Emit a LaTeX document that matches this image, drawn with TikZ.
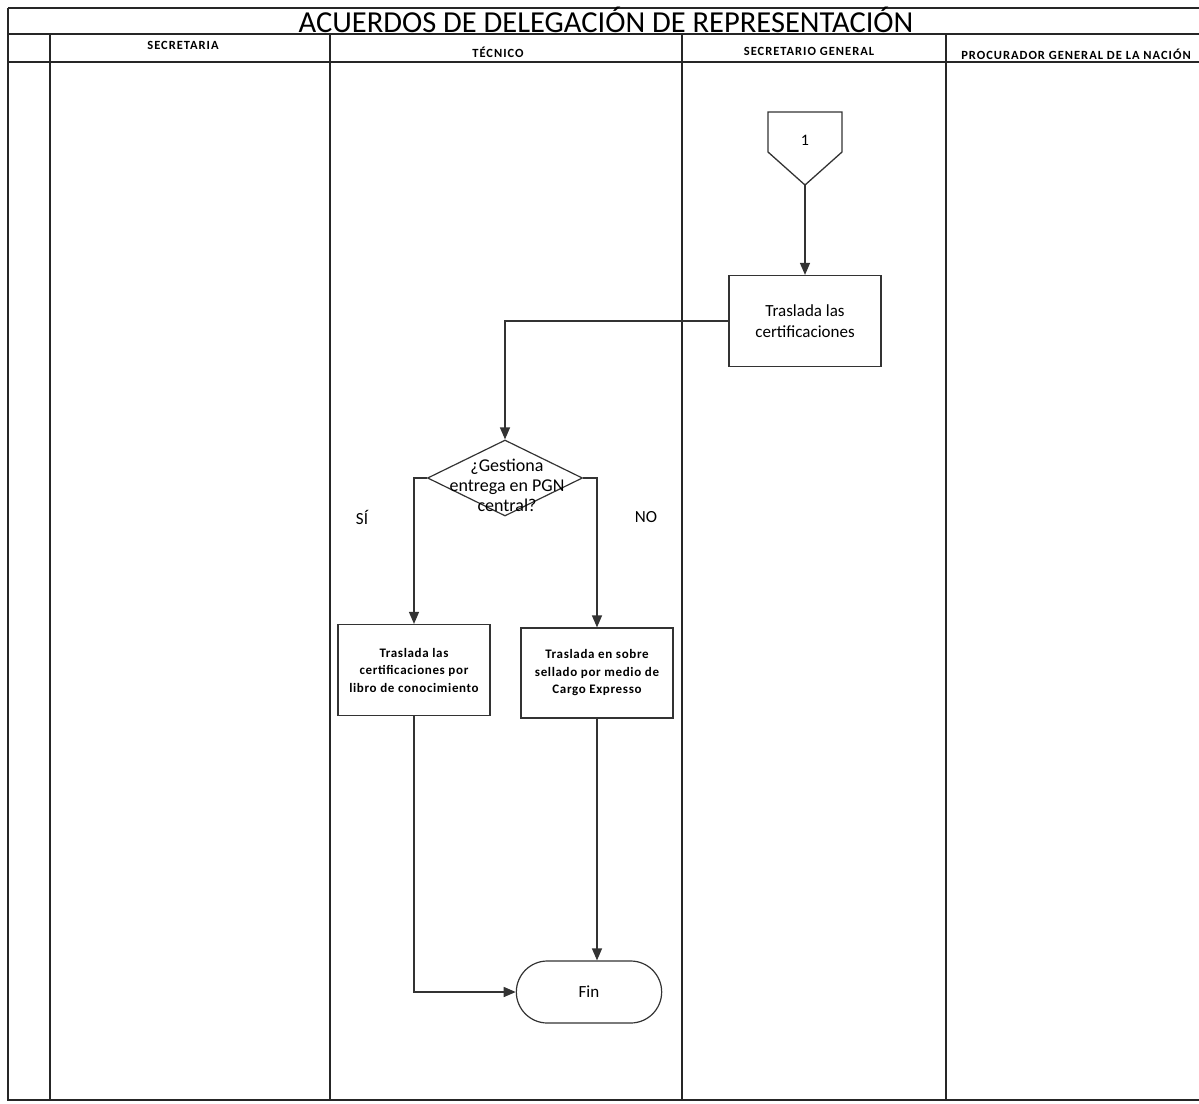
\documentclass[tikz,border=0pt]{standalone}
\usepackage{fontspec}
\setmainfont{Carlito}
\usetikzlibrary{arrows.meta,shapes.geometric,shapes.misc}
\begin{document}
\begin{tikzpicture}[x=1pt,y=-1pt,
  frame/.style={line width=1.3pt,draw=black!85},
  lane/.style={line width=1.1pt,draw=black!85},
  flow/.style={line width=1.3pt,draw=black!80,-{Triangle[length=12pt,width=10pt]}},
  plain/.style={line width=1.3pt,draw=black!80},
  stepbox/.style={draw=black!80,line width=1.2pt,rectangle,minimum width=152pt,inner sep=2pt,align=center},
  head/.style={font=\fontsize{12.5}{14}\selectfont\bfseries\addfontfeatures{LetterSpace=8},anchor=center},
  boldtext/.style={font=\fontsize{13}{17.5}\selectfont\bfseries\addfontfeatures{LetterSpace=5}},
  tag/.style={font=\fontsize{17}{19}\selectfont}]
\useasboundingbox (0,0) rectangle (1199,1103);

% table frame
\draw[frame] (8,8) -- (1199,8);
\draw[frame] (8,34) -- (1199,34);
\draw[frame] (8,62) -- (1199,62);
\draw[frame] (8,8) -- (8,1100) -- (1199,1100);
\foreach \lx in {50,330,682,946}
  \draw[lane] (\lx,34) -- (\lx,1100);

% title and lane headers
\node[font=\fontsize{30.5}{32}\selectfont] (title) at (606,20) {ACUERDOS DE DELEGACIÓN DE REPRESENTACIÓN};
\node[head] (h1) at (183,45) {SECRETARIA};
\node[head] (h2) at (498,52) {TÉCNICO};
\node[head] (h3) at (809,51) {SECRETARIO GENERAL};
\node[head] (h4) at (1076,54) {PROCURADOR GENERAL DE LA NACIÓN};

% off-page connector
\draw[plain] (768,112) -- (842,112) -- (842,152) -- (805,185) -- (768,152) -- cycle;
\node[font=\fontsize{16}{18}\selectfont] (c1) at (805,140) {1};
\coordinate (c1tip) at (805,185);

% process steps
\node[stepbox,minimum height=91pt,font=\fontsize{17}{21}\selectfont] (s1) at (805,321)
  {Traslada las\\certificaciones};

\node[draw=black!80,line width=1.2pt,diamond,minimum width=155pt,minimum height=76pt,inner sep=0pt] (d1) at (505,478) {};
\node[font=\fontsize{18}{20}\selectfont,align=center] (d1t) at (507,485) {¿Gestiona\\entrega en PGN\\central?};

\node[tag] (si) at (362,517) {SÍ};
\node[tag] (no) at (646,517) {NO};

\node[stepbox,minimum height=91pt,boldtext] (s2) at (414,670)
  {Traslada las\\certificaciones por\\libro de conocimiento};
\node[stepbox,minimum height=90pt,boldtext] (s3) at (597,673)
  {Traslada en sobre\\sellado por medio de\\Cargo Expresso};

\node[draw=black!80,line width=1.2pt,rounded rectangle,minimum width=152pt,minimum height=62pt,font=\fontsize{17}{19}\selectfont] (fin) at (589,992) {Fin};

% connectors
\draw[flow] (c1tip) -- (s1.north);
\draw[flow] (s1.west) -| (d1.north);
\draw[flow] (d1.west) -| (s2.north);
\draw[flow] (d1.east) -| (s3.north);
\draw[flow] (s2.south) |- (fin.west);
\draw[flow] (s3.south) -- (s3.south |- fin.north);
\end{tikzpicture}
\end{document}
